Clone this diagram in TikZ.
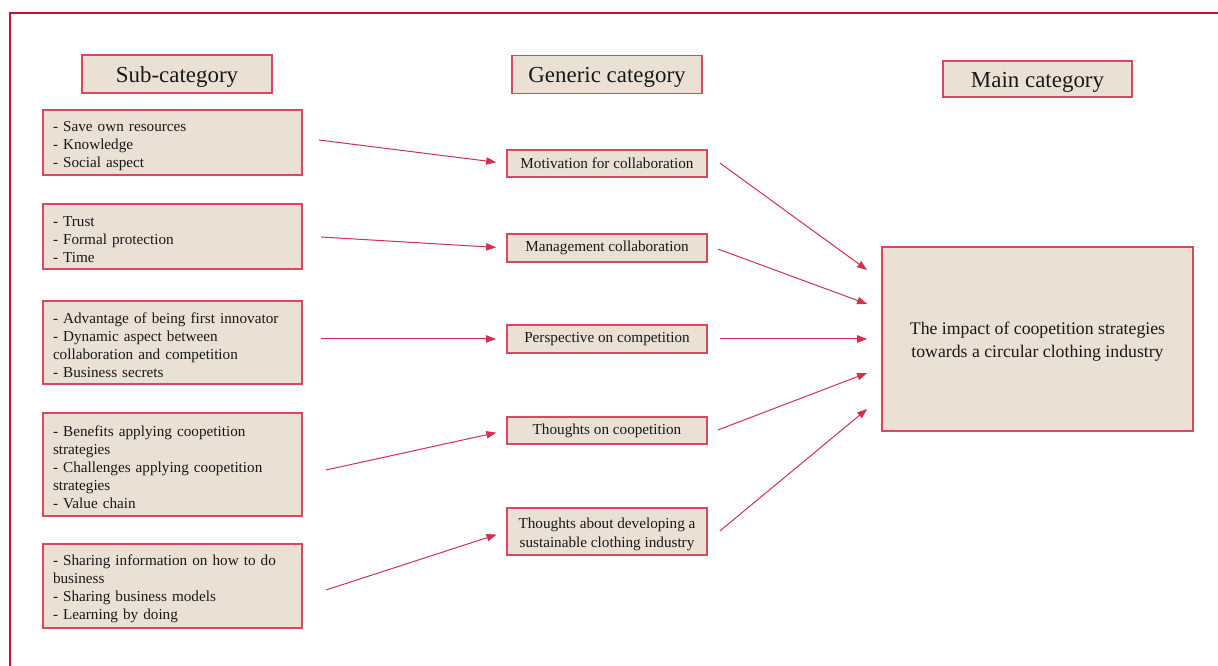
\documentclass[tikz,border=0pt]{standalone}
\usepackage{fontspec}
\setmainfont{Liberation Serif}
\usetikzlibrary{arrows.meta,calc}
\definecolor{framered}{RGB}{200,16,46}
\definecolor{boxedge}{RGB}{218,72,96}
\definecolor{boxfill}{RGB}{234,224,212}
\definecolor{arrowred}{RGB}{210,48,78}
\definecolor{ink}{RGB}{25,25,25}
% taller first line, so that multi-line text sits a little lower in its box
\newcommand\firstline[1]{\rule{0pt}{#1}}
\begin{document}
\begin{tikzpicture}[x=0.75pt,y=-0.75pt,
  box/.style={draw=boxedge, fill=boxfill, line width=1.3pt, text=ink, inner sep=0pt},
  head/.style={box, minimum width=190*0.75pt, minimum height=38*0.75pt,
    text height=16.2pt, text depth=3.7pt,
    font=\fontsize{17.2}{20}\selectfont},
  sub/.style={box, align=left, text width=239*0.75pt, inner xsep=7.5pt,
    font=\fontsize{11.4}{13.5}\selectfont},
  gen/.style={box, align=center, minimum width=200*0.75pt, minimum height=28*0.75pt,
    font=\fontsize{11.4}{14.2}\selectfont},
  arr/.style={draw=arrowred, line width=0.75pt, -{Triangle[length=7.5pt,width=5.5pt]}}]
\useasboundingbox (0,0) rectangle (1218,666);

% outer frame (top and left edges)
\draw[framered, line width=1.9pt, line join=miter] (10,666) -- (10,13) -- (1218,13);

% column headings
\node[head] (hs) at (177,74) {Sub-category};
\node[head] (hg) at (607,74.5) {Generic category};
\node[head, minimum width=189*0.75pt, minimum height=36*0.75pt] (hm) at (1037.5,79) {Main category};

% sub-categories
\node[sub, minimum height=65*0.75pt] (s1) at (172.5,142.5)
  {\firstline{12.3pt}- Save own resources\\- Knowledge\\- Social aspect};
\node[sub, minimum height=65*0.75pt] (s2) at (172.5,236.5)
  {\firstline{12.3pt}- Trust\\- Formal protection\\- Time};
\node[sub, minimum height=83*0.75pt] (s3) at (172.5,342.5)
  {\firstline{12.3pt}- Advantage of being first innovator\\- Dynamic aspect between\\collaboration and competition\\- Business secrets};
\node[sub, minimum height=103*0.75pt] (s4) at (172.5,464.5)
  {\firstline{12.3pt}- Benefits applying coopetition\\strategies\\- Challenges applying coopetition\\strategies\\- Value chain};
\node[sub, minimum height=84*0.75pt] (s5) at (172.5,586)
  {\firstline{12.3pt}- Sharing information on how to do\\business\\- Sharing business models\\- Learning by doing};

% generic categories
\node[gen, minimum height=27*0.75pt] (g1) at (607,163.5) {Motivation for collaboration};
\node[gen] (g2) at (607,248) {Management collaboration};
\node[gen] (g3) at (607,339) {Perspective on competition};
\node[gen, minimum height=27*0.75pt] (g4) at (607,430.5) {Thoughts on coopetition};
\node[gen, minimum height=47*0.75pt] (g5) at (607,531.5)
  {\firstline{12.3pt}Thoughts about developing a\\sustainable clothing industry};

% main category
\node[box, minimum width=311*0.75pt, minimum height=184*0.75pt, align=center,
  font=\fontsize{13.3}{17}\selectfont] (main) at (1037.5,339)
  {\firstline{13.6pt}The impact of coopetition strategies\\towards a circular clothing industry};

% arrow start points beside the sub-category boxes
\coordinate (a1) at ($(s1.east)+(16,-2.5)$);
\coordinate (a2) at ($(s2.east)+(18,0.5)$);
\coordinate (a3) at ($(s3.east)+(18,-3.5)$);
\coordinate (a4) at ($(s4.east)+(23,5.5)$);
\coordinate (a5) at ($(s5.east)+(23,4)$);

\draw[arr, shorten >=7.5pt] (a1) -- (g1.west);
\draw[arr, shorten >=7.5pt] (a2) -- (g2.west);
\draw[arr, shorten >=7.5pt] (a3) -- (g3.west);
\draw[arr, shorten >=7.5pt] (a4) -- (g4.west);
\draw[arr, shorten >=7.5pt] (a5) -- (g5.west);

% arrow start points beside the generic boxes
\coordinate (b1) at ($(g1.east)+(12,-0.5)$);
\coordinate (b2) at ($(g2.east)+(10,1)$);
\coordinate (b3) at ($(g3.east)+(12,0)$);
\coordinate (b4) at ($(g4.east)+(10,-0.5)$);
\coordinate (b5) at ($(g5.east)+(12,-0.5)$);

% arrow tips in front of the main box
\coordinate (m1) at ($(main.west)+(-14,-69)$);
\coordinate (m2) at ($(main.west)+(-14,-35)$);
\coordinate (m3) at ($(main.west)+(-14,0)$);
\coordinate (m4) at ($(main.west)+(-14,34)$);
\coordinate (m5) at ($(main.west)+(-14,70)$);

\draw[arr] (b1) -- (m1);
\draw[arr] (b2) -- (m2);
\draw[arr] (b3) -- (m3);
\draw[arr] (b4) -- (m4);
\draw[arr] (b5) -- (m5);
\end{tikzpicture}
\end{document}
